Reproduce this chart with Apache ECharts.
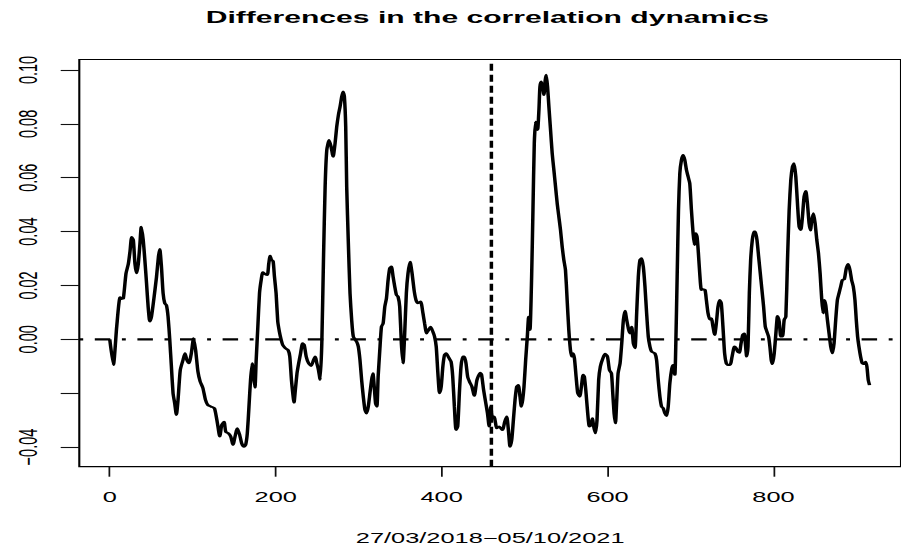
<!DOCTYPE html>
<html>
<head>
<meta charset="utf-8">
<script src="https://cdn.jsdelivr.net/npm/echarts@6/dist/echarts.min.js"></script>
<style>
  html, body { margin: 0; padding: 0; background: #fff; overflow: hidden; }
  #wrap { width: 901px; height: 558px; overflow: hidden; position: relative; background: #fff; }
  #chart { height: 558px; transform-origin: 0 0; position: absolute; left: 0; top: 0; }
</style>
</head>
<body>
<div id="wrap"><div id="chart"></div></div>
<script>
// ---- data (x index, difference value) ----
const xs = [0,4.4,8.4,12.4,14.4,16.4,19.6,22.4,24.4,26.4,28.4,30.4,32.4,34.4,36.4,38,40.3,42.3,44.3,46.3,48.3,50.3,53,56.3,58.7,60.3,62.3,64.3,66.3,68.3,70.3,72.3,74.3,76.3,78.3,80.3,82.3,85,88.3,90.7,93,95.5,98.3,101,103.5,106.3,109,112.2,115.4,118.2,122.2,126.2,
129.8,132.6,135,137.8,139.8,143,145.8,148.6,151,153.8,156.6,159,161.7,163.8,165.8,167.8,169.7,171.7,173.3,175,176.5,178.5,180.5,182.5,184.5,187.7,190,191.7,193.3,194.9,196.9,198.5,200.5,202.5,204.5,206.5,208.5,211.7,215,217,219,220.6,222.1,223.7,225.7,227.7,230,232.4,234.4,236.8,239.7,242.8,245.6,247.6,249.6,251.6,253.6,255.6,257.6,259.6,261.6,264.4,266.8,269.2,271.6,273.6,275.6,277.6,279.6,281.2,282.8,284.4,
285.6,287.6,289.6,291.6,293.6,297.6,299.6,301.6,303.6,305.6,307.6,309.6,311.6,313.6,315.6,317.2,318.8,320.4,322,323.5,325.5,327.5,329.5,331.5,333.5,335.5,337.5,339.5,341.5,343.5,345.5,347.5,349.5,351.5,353.5,355.5,357.5,359.5,362,364.4,366.8,369.1,371.5,374.7,377.5,379.5,381.9,384.3,386.7,389.5,391.5,393.5,395.5,397.5,399.5,401.5,403.5,405.5,408.6,411.4,413.4,415.4,417.4,419.4,421.4,423.4,425.4,427.4,429.4,431.4,434,436.5,439.4,442.6,
446.6,448.2,450.6,453.3,455.3,457.3,459.3,461.3,463.3,466.5,469.3,473.3,476.1,478.5,480.5,482.5,484.5,486.5,488.5,490.5,492.5,494.5,496.1,497.7,499.3,501.3,503.3,504.9,506.5,508.5,510.1,511.7,513.3,514.5,515.7,517.3,518.5,520.1,521.7,523.3,524.9,526.1,527.7,529.3,531.3,533.3,535.3,537.3,539.3,541.3,543.3,545.3,547.3,549.3,551.3,553.3,555.3,556.9,558.5,560.1,562.1,564.1,566.5,568.5,570.5,572.1,574.1,576.1,578.1,580.1,581.7,583.3,585.3,587.3,589.3,591.3,594.4,597.1,599.9,
602.3,604.7,606.3,607.9,609.5,611.1,612.7,615.1,617.1,619.1,621.1,623.1,625.5,627.1,629.1,631.1,633.1,635.1,637.1,639.1,641.1,643.1,645.1,647.1,649.1,651.1,653.1,657.1,659.1,661.1,663.1,665.1,667.1,669.1,671.1,673.1,675.1,677.5,679.1,681.1,682.3,683.9,685.5,687.1,689.1,691.1,693.1,695.1,697.1,699.1,701.1,703.1,704.7,706.3,707.9,709.5,711.1,713.1,715.1,717.5,719.1,721.1,723.1,725.1,727.1,729.1,731.1,733.1,735.1,737.1,739.1,741.1,743.1,745.1,747.8,750.1,752.9,754.9,756.9,758.9,760.9,762.9,764.9,766.1,767.7,769.3,
770.9,772.5,774.5,776.5,778.1,780.1,782.1,784.1,786.1,788.1,790.1,792.1,794.1,795.7,797.3,798.9,800.9,802.9,804.9,806.9,808.9,810.9,812.9,814.9,816.9,818.9,820.9,822.9,824.9,826.9,828.9,830.9,832.9,834.9,836.9,838.9,840.9,842.9,844.6,846.2,848.2,850.2,852.2,854.2,856.2,858.2,859.8,861.4,863,865,867,869,871,873,875,877,879,881,883,885.4,887.8,890.2,892.2,894.2,896.2,898.2,899.8,901.4,903,905,907,909,911,912.6,914.2,915.8];
const ys = [0,-0.0095,0.0047,0.0156,0.015,0.0152,0.0245,0.028,0.0326,0.038,0.0369,0.028,0.0245,0.028,0.0356,0.0418,0.037,0.0295,0.021,0.012,0.0066,0.0084,0.0146,0.023,0.0307,0.0335,0.027,0.0171,0.0134,0.0127,0.0084,0,-0.0101,-0.02,-0.0238,-0.0281,-0.0225,-0.0114,-0.0077,-0.0052,-0.0077,-0.0089,-0.0052,0.0004,-0.004,-0.012,-0.0157,-0.018,-0.0225,-0.0244,-0.025,-0.0256,
-0.0312,-0.0361,-0.0318,-0.0306,-0.0343,-0.0349,-0.0361,-0.0392,-0.0361,-0.033,-0.0355,-0.0386,-0.0399,-0.0392,-0.0349,-0.025,-0.0151,-0.0089,-0.0139,-0.018,-0.0077,0.0047,0.0171,0.022,0.0249,0.0241,0.0239,0.0282,0.031,0.0295,0.029,0.0233,0.0171,0.0066,0.0028,0,-0.0021,-0.0033,-0.004,-0.0064,-0.0151,-0.02,-0.0235,-0.0188,-0.0126,-0.0089,-0.0052,-0.0015,-0.0021,-0.0064,-0.0089,-0.0099,-0.0077,-0.0064,-0.0089,-0.0114,-0.0151,-0.0015,0.0295,0.0567,0.0703,0.074,0.0715,0.0678,0.0728,0.079,0.0833,0.0864,0.0901,0.092,0.0901,0.079,
0.0567,0.0356,0.0171,0.0072,0.001,-0.0009,-0.0027,-0.0077,-0.0151,-0.0213,-0.0262,-0.0275,-0.025,-0.02,-0.0151,-0.0126,-0.0176,-0.0238,-0.025,-0.0139,-0.004,0.0047,0.0059,0.0121,0.0152,0.022,0.0264,0.027,0.0233,0.0196,0.0165,0.0158,0.0121,-0.0015,-0.0089,0.0022,0.0171,0.0245,0.0288,0.0245,0.0183,0.0146,0.0134,0.014,0.0097,0.0059,0.0022,0.0035,0.0047,0.0028,0.001,-0.0027,-0.0126,-0.02,-0.0176,-0.0101,-0.0058,-0.0052,-0.0068,-0.0083,-0.0139,-0.025,-0.0337,-0.0324,-0.02,-0.0101,-0.0064,-0.0064,-0.0089,-0.0139,-0.016,-0.0175,-0.021,-0.0151,
-0.0124,-0.0132,-0.0188,-0.0238,-0.0275,-0.0324,-0.025,-0.0293,-0.0287,-0.033,-0.0324,-0.0337,-0.0306,-0.0287,-0.0337,-0.0399,-0.0374,-0.03,-0.0225,-0.0176,-0.017,-0.0213,-0.025,-0.0225,-0.0176,-0.0077,0.001,0.0084,0.0035,0.0233,0.048,0.0728,0.0808,0.079,0.0777,0.0852,0.0938,0.0957,0.0938,0.0907,0.0963,0.0982,0.0938,0.0864,0.0777,0.069,0.0629,0.0567,0.0505,0.0455,0.0406,0.0344,0.0295,0.0257,0.0146,0.0035,-0.004,-0.0064,-0.0052,-0.0071,-0.0139,-0.02,-0.0213,-0.0176,-0.0132,-0.0139,-0.02,-0.0275,-0.0324,-0.0318,-0.0293,-0.0324,-0.0349,-0.03,-0.0151,-0.0101,-0.007,-0.0054,-0.0064,
-0.0114,-0.0126,-0.02,-0.0275,-0.0312,-0.0225,-0.0126,-0.0089,-0.0015,0.0072,0.0106,0.0072,0.0035,0.0022,0.0047,-0.0015,-0.0033,0.0097,0.0233,0.0295,0.0301,0.027,0.0196,0.0097,0.001,-0.0027,-0.0046,-0.0052,-0.0077,-0.0151,-0.0213,-0.025,-0.0256,-0.0275,-0.0285,-0.025,-0.0163,-0.0108,-0.0095,-0.0132,-0.0015,0.0233,0.048,0.0616,0.0666,0.0684,0.0666,0.0629,0.0604,0.0579,0.048,0.0394,0.035,0.0394,0.0381,0.032,0.0245,0.0183,0.0186,0.0183,0.0146,0.0097,0.0074,0.0078,0.0047,0.0016,0.0059,0.0121,0.0146,0.0134,0.0047,-0.0052,-0.0089,-0.0095,-0.0095,-0.0064,-0.0027,-0.0033,-0.0046,-0.005,-0.0015,0.0016,0.0022,-0.0015,-0.0064,-0.0027,
0.0171,0.0295,0.0369,0.04,0.04,0.0369,0.0307,0.0245,0.0183,0.0121,0.0047,0.0028,0.001,-0.0027,-0.0077,-0.0092,-0.0052,0.0022,0.0087,0.0066,0.001,0.001,0.0072,0.0084,0.0295,0.048,0.0592,0.0641,0.0654,0.0604,0.0505,0.0418,0.0406,0.0455,0.053,0.0551,0.0505,0.0431,0.0404,0.0443,0.0468,0.0431,0.0369,0.032,0.0245,0.0146,0.0097,0.0146,0.0127,0.0072,0.0022,-0.0027,-0.0052,-0.0015,0.0072,0.0146,0.0171,0.0196,0.022,0.0223,0.0264,0.028,0.0257,0.022,0.0196,0.0146,0.0072,0.001,-0.0027,-0.0064,-0.0089,-0.0092,-0.0083,-0.0101,-0.0151,-0.017];

const xTicks = [0, 200, 400, 600, 800];
const yTicks = [-0.04, -0.02, 0, 0.02, 0.04, 0.06, 0.08, 0.10];
const yHiddenLabels = [-0.02];
const splitX = 460;      // vertical dashed marker
const refY = 0;          // horizontal reference line
const titleText = 'Differences in the correlation dynamics';
const xName = '27/03/2018\u221205/10/2021';

// ---- layout ----
const K = 1.75;               // horizontal stretch of the reference picture
const W = 901 / K;
const xMin = -36.7, xMax = 953.7;
const yMin = -0.0473, yMax = 0.1039;
const FONT = '"Liberation Sans", Arial, Helvetica, sans-serif';

const el = document.getElementById('chart');
el.style.width = W + 'px';
el.style.transform = 'scaleX(' + K + ')';
const chart = echarts.init(el, null, { renderer: 'svg', width: W, height: 558 });

const fmtY = v => {
  if (yHiddenLabels.some(h => Math.abs(h - v) < 1e-9)) return '';
  return v.toFixed(2).replace('-', '\u2212');
};

chart.setOption({
  backgroundColor: '#fff',
  animation: false,
  title: {
    text: titleText,
    left: 487.4 / K - 5,
    top: 4,
    textAlign: 'center',
    textStyle: { fontFamily: FONT, fontSize: 17.2, fontWeight: 'bold', color: '#000' }
  },
  grid: {
    left: 79.3 / K, top: 59.5, width: 829 / K, height: 407.2,
    show: true, borderColor: '#000', borderWidth: 1.2, backgroundColor: 'transparent'
  },
  xAxis: {
    type: 'value', min: xMin, max: xMax,
    axisLine: { show: false, onZero: false },
    splitLine: { show: false },
    axisTick: { show: true, inside: false, customValues: xTicks, length: 10, lineStyle: { color: '#111', width: 1 } },
    axisLabel: { customValues: xTicks, margin: 23, fontFamily: FONT, fontSize: 14.5, color: '#000' },
    name: xName, nameLocation: 'middle', nameGap: 64,
    nameTextStyle: { fontFamily: FONT, fontSize: 14.5, color: '#000' }
  },
  yAxis: {
    type: 'value', min: yMin, max: yMax,
    axisLine: { show: false, onZero: false },
    splitLine: { show: false },
    axisTick: { show: true, inside: false, customValues: yTicks, length: 18.6 / K, lineStyle: { color: '#111', width: 1.1 } },
    axisLabel: { customValues: yTicks, rotate: 90, margin: 22, fontFamily: FONT, fontSize: 14.5, color: '#000', formatter: fmtY }
  },
  series: [
    {
      type: 'line', name: 'diff', showSymbol: false, smooth: 0.2,
      data: xs.map((x, i) => [x, ys[i]]),
      lineStyle: { color: '#000', width: 2 },
      z: 3
    },
    {
      type: 'line', name: 'zero', showSymbol: false, silent: true,
      data: [[xMin, refY], [xMax, refY]],
      lineStyle: { color: '#000', width: 2.2, type: [3.9 / K, 11.6 / K, 15.5 / K, 11.6 / K], cap: 'butt' },
      z: 4
    },
    {
      type: 'line', name: 'split', showSymbol: false, silent: true,
      data: [[splitX, yMin], [splitX, yMax]],
      lineStyle: { color: '#000', width: 2.0, type: [7, 4], cap: 'butt' },
      z: 5
    }
  ]
});
</script>
</body>
</html>
